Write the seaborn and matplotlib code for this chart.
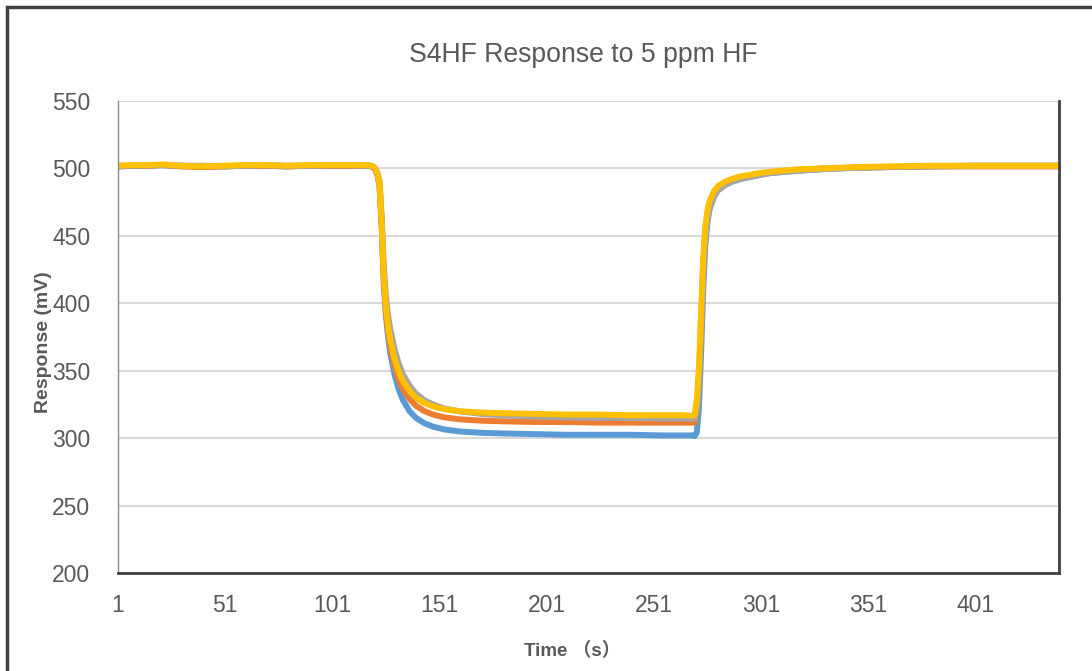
import matplotlib
matplotlib.use("Agg")
import matplotlib.pyplot as plt
from matplotlib.patches import Rectangle
import seaborn as sns
import pandas as pd

time_s = [1, 8, 15, 22, 30, 40, 50, 60, 70, 80,
          90, 100, 110, 118, 120, 121, 122, 123, 124, 125,
          126, 127, 128, 130, 132, 134, 137, 140, 144, 148,
          153, 160, 170, 180, 195, 210, 225, 240, 255, 265,
          269, 270, 271, 272, 273, 274, 275, 276, 277, 279,
          281, 284, 287, 291, 295, 300, 305, 312, 320, 330,
          345, 360, 380, 400, 420, 440]

blue = [501.5, 502.0, 502.0, 502.5, 502.0, 501.5, 501.5, 502.0, 502.0, 501.5,
        502.0, 502.0, 502.0, 502.0, 501.0, 499.5, 495.0, 487.5, 457.0, 414.0,
        391.0, 375.0, 363.0, 347.0, 336.0, 328.0, 320.0, 315.0, 311.0, 308.5,
        306.5, 305.0, 304.0, 303.5, 303.0, 302.5, 302.5, 302.5, 302.0, 302.0,
        302.0, 301.5, 304.0, 322.0, 362.0, 410.0, 443.0, 460.0, 470.0, 479.0,
        484.0, 487.5, 490.0, 492.0, 493.5, 495.0, 496.5, 497.5, 498.5, 499.5,
        500.5, 501.0, 501.5, 502.0, 502.0, 502.0]

orange = [501.5, 502.0, 502.0, 502.5, 501.5, 501.0, 501.5, 502.0, 502.0, 501.5,
          502.0, 502.0, 502.0, 502.0, 501.0, 499.5, 495.5, 488.5, 459.0, 418.0,
          394.0, 379.0, 368.0, 353.0, 343.0, 336.0, 329.0, 324.0, 320.0, 317.5,
          315.5, 314.0, 313.0, 312.5, 312.0, 312.0, 311.5, 311.5, 311.5, 311.5,
          311.5, 311.5, 318.0, 342.0, 384.0, 428.0, 453.0, 466.0, 474.0, 481.0,
          485.5, 489.0, 491.0, 493.0, 494.5, 496.0, 497.0, 498.0, 499.0, 500.0,
          500.5, 501.0, 501.5, 501.5, 501.5, 501.5]

gray = [502.0, 502.0, 502.5, 502.5, 502.0, 502.0, 501.5, 502.0, 502.5, 502.0,
        502.0, 502.5, 502.5, 502.0, 501.5, 500.0, 497.0, 491.0, 465.0, 428.0,
        405.0, 391.0, 381.0, 366.0, 355.0, 347.0, 339.0, 333.0, 328.0, 325.0,
        322.0, 320.0, 318.0, 317.0, 316.0, 315.5, 315.0, 315.0, 314.5, 314.5,
        314.5, 314.5, 320.0, 340.0, 378.0, 422.0, 449.0, 463.0, 471.0, 479.0,
        484.0, 487.5, 490.0, 492.0, 493.5, 495.0, 496.5, 497.5, 498.5, 499.5,
        500.5, 501.0, 501.5, 502.0, 502.0, 502.0]

yellow = [502.0, 502.5, 502.5, 503.0, 502.0, 501.5, 502.0, 502.5, 502.5, 502.0,
          502.5, 502.5, 502.5, 502.5, 501.5, 500.0, 496.0, 489.0, 460.0, 420.0,
          397.0, 383.0, 373.0, 359.0, 349.0, 342.0, 335.0, 330.0, 326.0, 323.5,
          321.5, 320.0, 319.0, 318.5, 318.0, 317.5, 317.5, 317.0, 317.0, 317.0,
          316.5, 317.5, 328.0, 352.0, 392.0, 433.0, 457.0, 469.0, 476.0, 483.0,
          487.0, 490.0, 492.0, 494.0, 495.0, 496.5, 497.5, 498.5, 499.5, 500.0,
          501.0, 501.5, 502.0, 502.0, 502.0, 502.0]

series_names = ["S1", "S2", "S3", "S4"]
series_colors = ["#5B9BD5", "#ED7D31", "#A5A5A5", "#FFC000"]
x_ticks = [1, 51, 101, 151, 201, 251, 301, 351, 401]
y_ticks = [200, 250, 300, 350, 400, 450, 500, 550]

frames = []
for name, vals in zip(series_names, [blue, orange, gray, yellow]):
    frames.append(pd.DataFrame({"t": time_s, "v": vals, "s": name}))
df = pd.concat(frames, ignore_index=True)

sns.set_theme(style="white")
plt.rcParams["font.family"] = ["Liberation Sans", "Noto Sans CJK SC", "DejaVu Sans"]

fig = plt.figure(figsize=(10.92, 6.71), dpi=100)
ax = fig.add_axes([118 / 1092, 1 - 573 / 671, (1059 - 118) / 1092, (573 - 101) / 671])

sns.lineplot(data=df, x="t", y="v", hue="s", palette=dict(zip(series_names, series_colors)),
             hue_order=series_names, linewidth=4.3, legend=False, ax=ax, sort=True,
             solid_capstyle="round", solid_joinstyle="round")

ax.set_xlim(1, 440)
ax.set_ylim(200, 550)
ax.set_xticks(x_ticks)
ax.set_yticks(y_ticks)
ax.set_xticklabels([str(v) for v in x_ticks])
ax.set_yticklabels([str(v) for v in y_ticks])
ax.tick_params(axis="both", length=0, labelsize=16.5, labelcolor="#595959")
ax.tick_params(axis="x", pad=15)
ax.tick_params(axis="y", pad=20)
ax.grid(axis="y", color="#D9D9D9", linewidth=1.5)
ax.grid(axis="x", visible=False)
ax.set_axisbelow(True)
ax.set_xlabel("")
ax.set_ylabel("")

ax.spines["top"].set_visible(False)
ax.spines["left"].set_color("#8C8C8C")
ax.spines["left"].set_linewidth(1.0)
ax.spines["bottom"].set_color("#404040")
ax.spines["bottom"].set_linewidth(2.0)
ax.spines["right"].set_color("#404040")
ax.spines["right"].set_linewidth(2.0)

fig.text(583 / 1092, 1 - 55 / 671, "S4HF Response to 5 ppm HF", ha="center", va="center",
         fontsize=19.2, color="#595959")
fig.text(572 / 1092, 1 - 651 / 671, "Time （s）", ha="center", va="center",
         fontsize=13.5, fontweight="bold", color="#595959")
fig.text(43 / 1092, 1 - 342 / 671, "Response (mV)", ha="center", va="center", rotation=90,
         fontsize=14, fontweight="bold", color="#595959")

fig.patches.append(Rectangle((7 / 1092, -0.1), 1.2, 1.1 - 7 / 671,
                             transform=fig.transFigure, fill=False,
                             edgecolor="#404040", linewidth=2.5, zorder=-1))

fig.savefig("out.png", dpi=100, facecolor="white")
